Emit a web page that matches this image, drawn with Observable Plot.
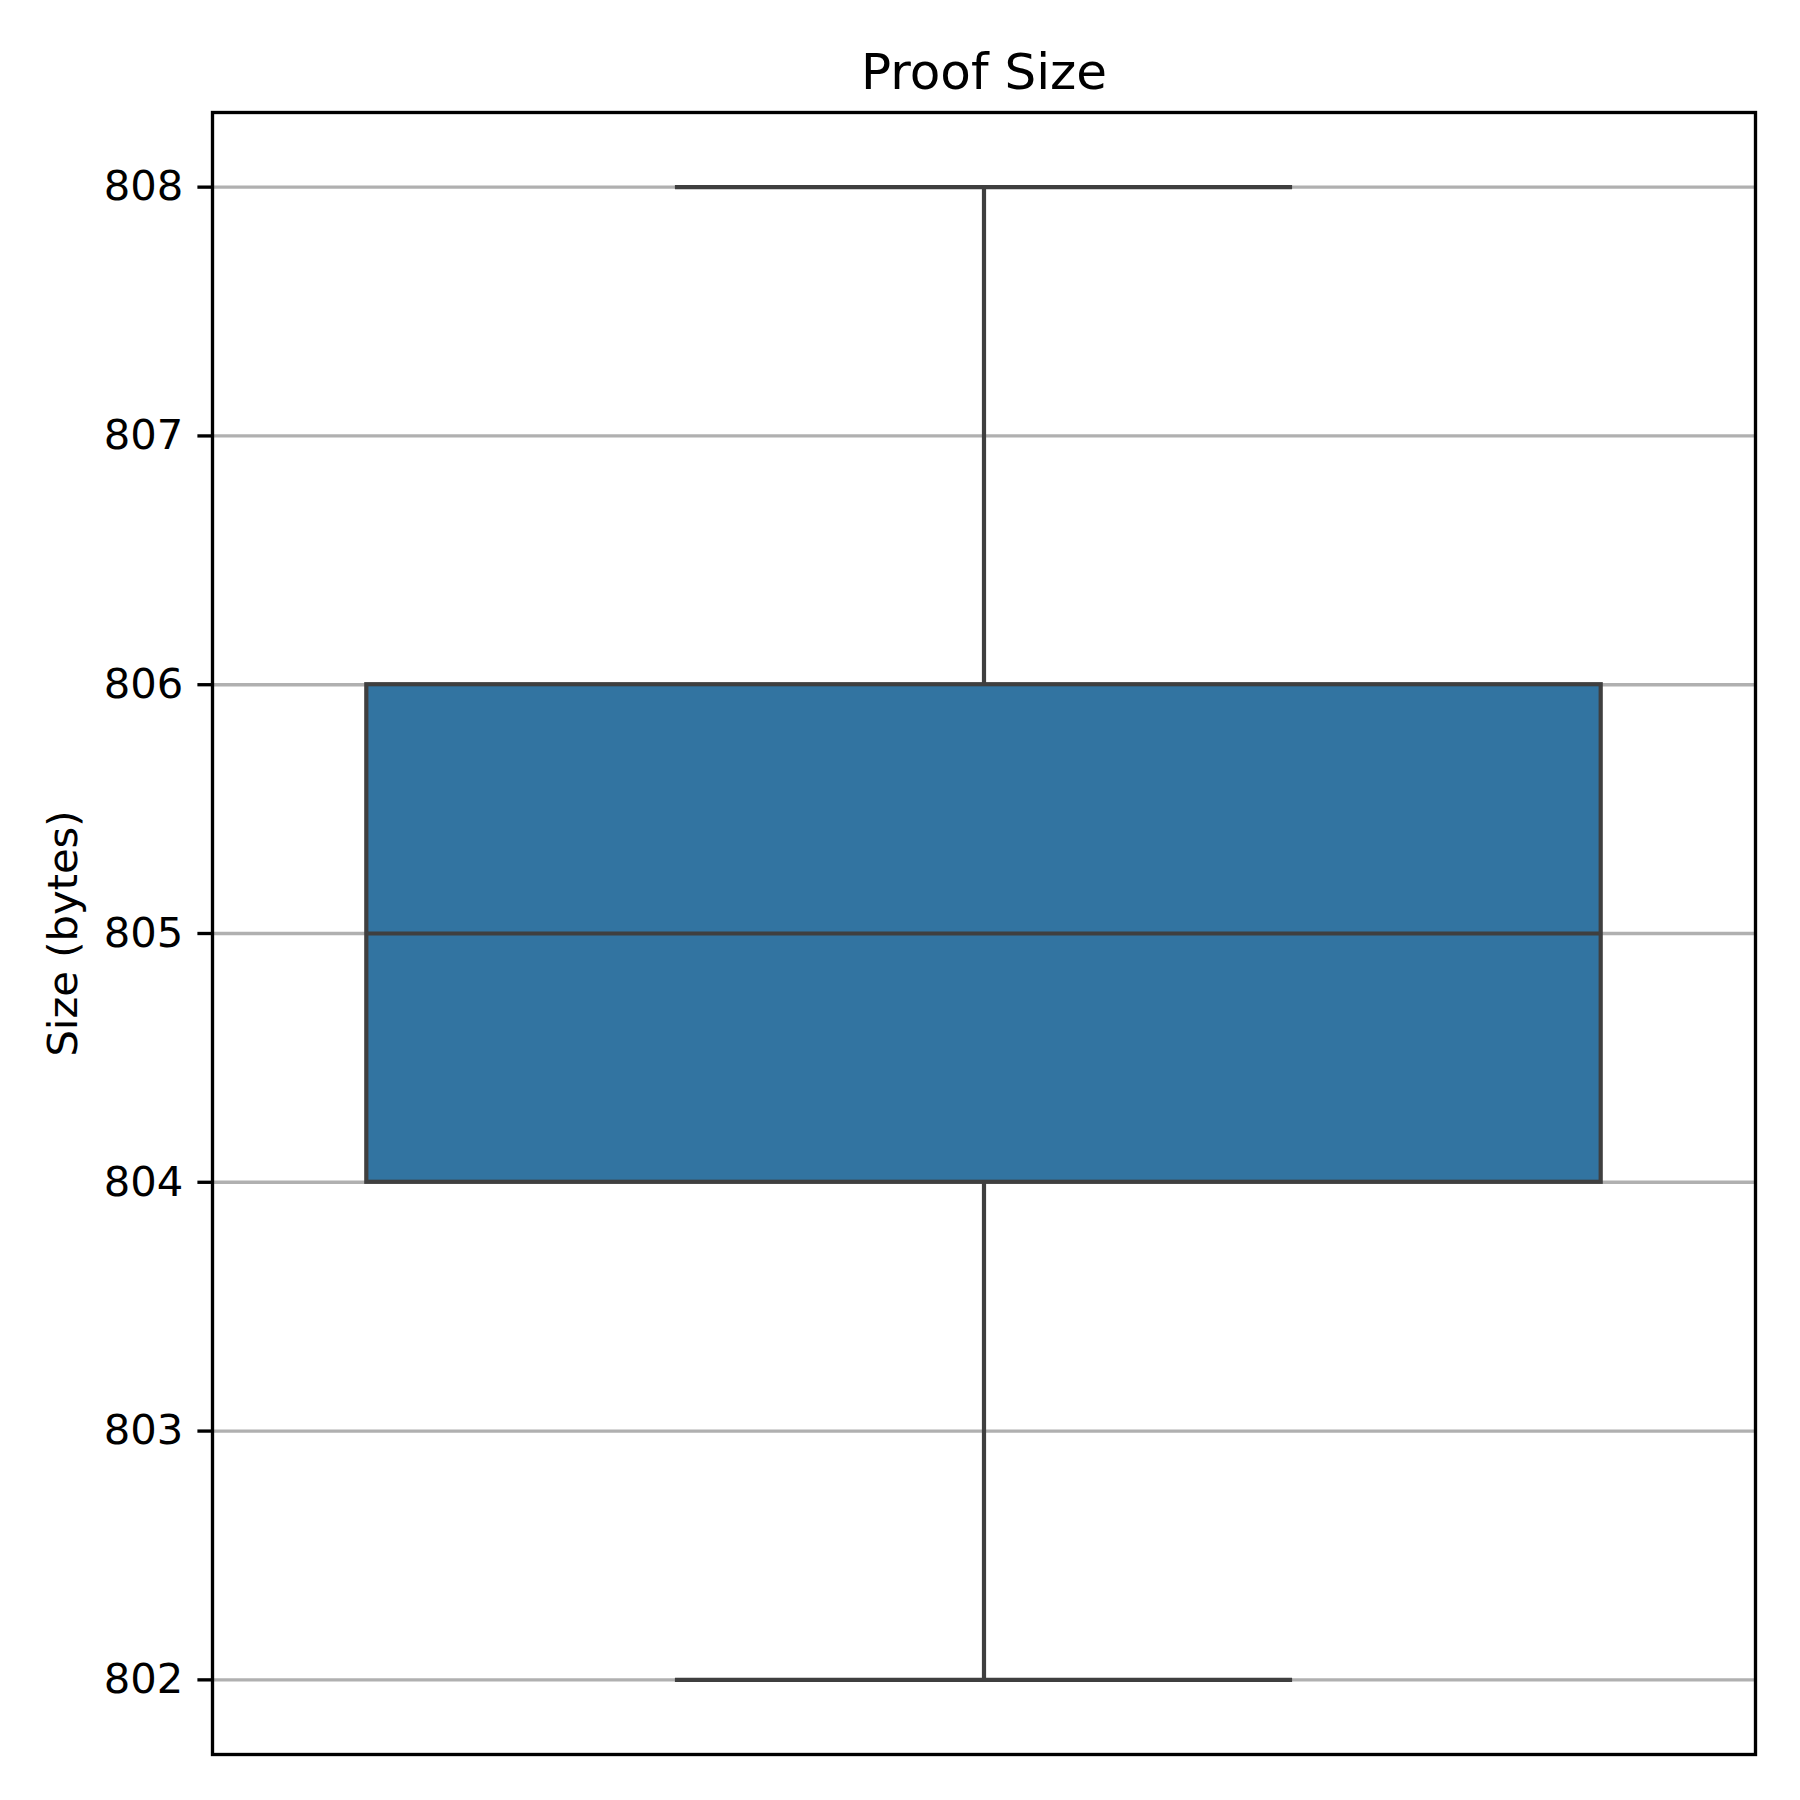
<!DOCTYPE html>
<html>
<head>
<meta charset="utf-8">
<script src="https://cdn.jsdelivr.net/npm/d3@7"></script>
<script src="https://cdn.jsdelivr.net/npm/@observablehq/plot@0.6"></script>
<style>
  html, body { margin: 0; padding: 0; background: #fff; }
  #chart { width: 1800px; height: 1800px; }
</style>
</head>
<body>
<div id="chart"></div>
<script>
// ---- Data ----
const categories = ["Proof Size"];
const whiskerLow = [802];
const q1Values = [804];
const medianValues = [805];
const q3Values = [806];
const whiskerHigh = [808];
const yTicks = [802, 803, 804, 805, 806, 807, 808];
const titleText = "Proof Size";
const yLabel = "Size (bytes)";

// ---- Build table ----
const rows = categories.map((c, i) => ({
  cat: c, pos: i,
  lo: whiskerLow[i], q1: q1Values[i], med: medianValues[i], q3: q3Values[i], hi: whiskerHigh[i]
}));

const BOX_HALF = 0.4;   // seaborn width 0.8
const CAP_HALF = 0.2;   // caps half of the box width
const FONT = "DejaVu Sans, Liberation Sans, sans-serif";
const LW = 3.33;        // 0.8pt at 300dpi
const BOXLW = 4.2;
const EDGE = "#3f3f3f";

const yMin = d3.min(whiskerLow), yMax = d3.max(whiskerHigh);
const pad = (yMax - yMin) * 0.05;

const chart = Plot.plot({
  width: 1800,
  height: 1800,
  marginLeft: 212,
  marginRight: 45,
  marginTop: 112,
  marginBottom: 46,
  style: { fontFamily: FONT, background: "#fff", color: "#000" },
  x: { domain: [-0.5, 0.5], axis: null },
  y: { domain: [yMin - pad, yMax + pad], axis: null },
  marks: [
    Plot.gridY(yTicks, { stroke: "#b0b0b0", strokeOpacity: 1, strokeWidth: LW }),
    // whiskers
    Plot.ruleX(rows, { x: "pos", y1: "lo", y2: "q1", stroke: EDGE, strokeWidth: BOXLW }),
    Plot.ruleX(rows, { x: "pos", y1: "q3", y2: "hi", stroke: EDGE, strokeWidth: BOXLW }),
    // caps
    Plot.ruleY(rows, { y: "lo", x1: d => d.pos - CAP_HALF, x2: d => d.pos + CAP_HALF, stroke: EDGE, strokeWidth: BOXLW }),
    Plot.ruleY(rows, { y: "hi", x1: d => d.pos - CAP_HALF, x2: d => d.pos + CAP_HALF, stroke: EDGE, strokeWidth: BOXLW }),
    // box
    Plot.rect(rows, { x1: d => d.pos - BOX_HALF, x2: d => d.pos + BOX_HALF, y1: "q1", y2: "q3",
      fill: "#3274a1", stroke: EDGE, strokeWidth: BOXLW }),
    // median
    Plot.ruleY(rows, { y: "med", x1: d => d.pos - BOX_HALF, x2: d => d.pos + BOX_HALF, stroke: EDGE, strokeWidth: BOXLW }),
    Plot.axisY(yTicks, { tickSize: 14.6, tickPadding: 14.6, fontSize: 41.7, strokeWidth: LW,
      stroke: "#000", label: null, tickFormat: d => String(d), fill: "#000" }),
    Plot.frame({ stroke: "#000", strokeWidth: LW }),
    Plot.text([yLabel], { frameAnchor: "left", dx: -149, rotate: -90, text: d => d,
      fontSize: 41.7, textAnchor: "middle", lineAnchor: "middle", fill: "#000" }),
    Plot.text([titleText], { frameAnchor: "top", dy: -40, text: d => d,
      fontSize: 50, textAnchor: "middle", lineAnchor: "middle", fill: "#000" })
  ]
});
document.getElementById("chart").appendChild(chart);
</script>
</body>
</html>
